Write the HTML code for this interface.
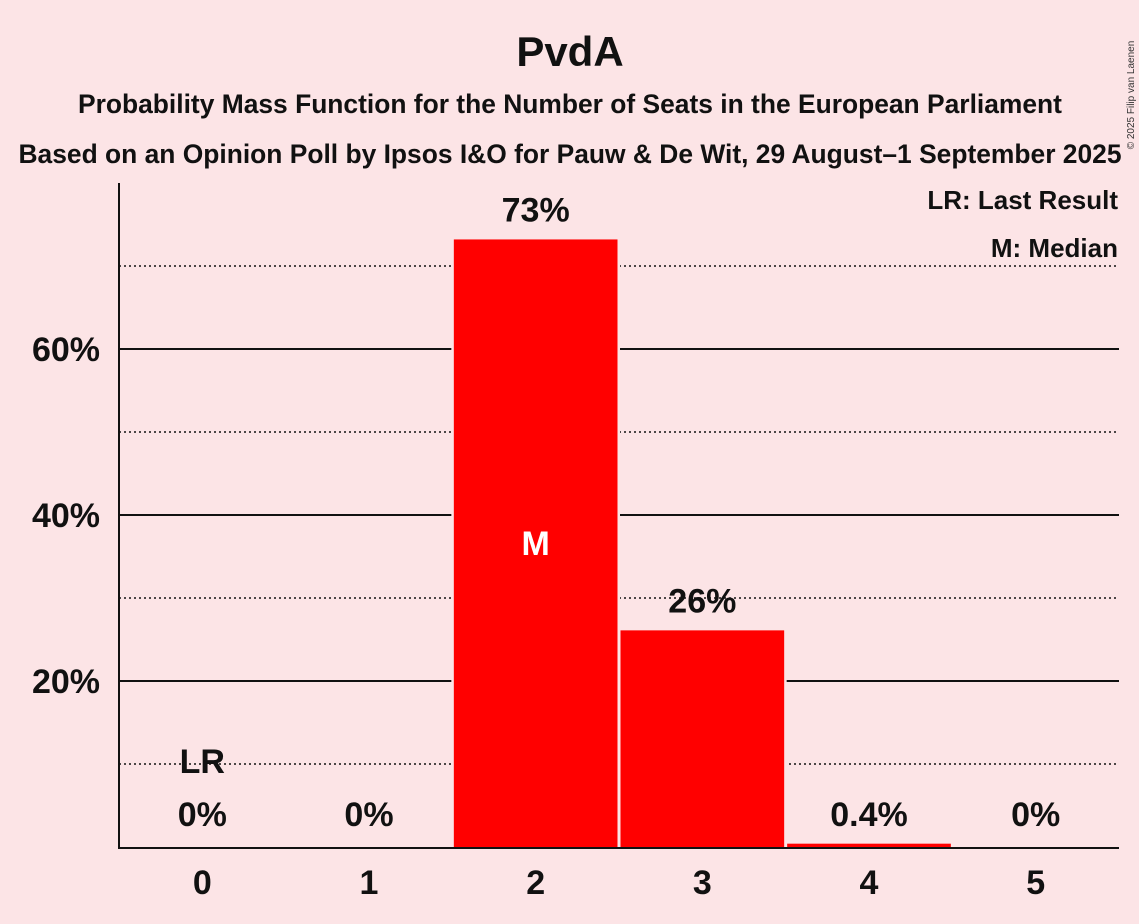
<!DOCTYPE html>
<html><head><meta charset="utf-8"><style>
html,body{margin:0;padding:0;background:#fce4e6;}
svg{display:block;font-family:"Liberation Sans",sans-serif;}
</style></head><body>
<svg id="chart" width="1139" height="924" viewBox="0 0 1139 924">
<rect width="1139" height="924" fill="#fce4e6"/>
<text x="570" y="66" text-anchor="middle" font-size="42" font-weight="bold" fill="#111">PvdA</text>
<text x="570" y="113" text-anchor="middle" font-size="26.4" font-weight="bold" fill="#111">Probability Mass Function for the Number of Seats in the European Parliament</text>
<text x="570" y="163" text-anchor="middle" font-size="26.4" font-weight="bold" fill="#111">Based on an Opinion Poll by Ipsos I&amp;O for Pauw &amp; De Wit, 29 August–1 September 2025</text>
<text transform="translate(1134,95) rotate(-90)" text-anchor="middle" font-size="10" fill="#333">© 2025 Filip van Laenen</text>
<g id="grid"></g>
<g id="bars"></g>
<g id="labels"></g>
<line x1="119" y1="183" x2="119" y2="848" stroke="#111" stroke-width="2"/>
<line x1="118" y1="848" x2="1119" y2="848" stroke="#111" stroke-width="2"/>
<text x="1118" y="209" text-anchor="end" font-size="26" font-weight="bold" fill="#111">LR: Last Result</text>
<text x="1118" y="257" text-anchor="end" font-size="26" font-weight="bold" fill="#111">M: Median</text>
</svg>
<script>
const categories=[0,1,2,3,4,5];
const values=[0,0,73.2,26.1,0.4,0];
const valueLabels=["0%","0%","73%","26%","0.4%","0%"];
const yTicks=[20,40,60];
const yTickLabels=["20%","40%","60%"];
const dottedTicks=[10,30,50,70];
const lastResult=0;
const median=2;
const NS="http://www.w3.org/2000/svg";
const x0=119,x1=1119,yBase=847,pxPer=8.3;
const step=(x1-x0)/categories.length;
function xC(i){return x0+step*(i+0.5);}
function y(v){return yBase-v*pxPer;}
function mk(tag,attrs,parent){const e=document.createElementNS(NS,tag);for(const k in attrs)e.setAttribute(k,attrs[k]);parent.appendChild(e);return e;}
const grid=document.getElementById('grid'),bars=document.getElementById('bars'),labels=document.getElementById('labels');
dottedTicks.forEach(t=>{const l=mk('line',{x1:x0,x2:x1,y1:y(t),y2:y(t),stroke:'#111','stroke-width':1.5,'stroke-dasharray':'2,3'},grid);

});
yTicks.forEach((t,i)=>{const l=mk('line',{x1:x0,x2:x1,y1:y(t),y2:y(t),stroke:'#111','stroke-width':2},grid);


const tx=mk('text',{x:100,y:y(t)+12,'text-anchor':'end','font-size':34,'font-weight':'bold',fill:'#111'},labels);tx.textContent=yTickLabels[i];

});
categories.forEach((c,i)=>{
const cx=xC(i);
if(values[i]>0){
const top=y(values[i]);
const bg=mk('rect',{x:cx-step/2-1,y:top-2,width:step+2,height:yBase-top+2,fill:'#fce4e6'},bars);


const r=mk('rect',{x:cx-step/2+1.5,y:top,width:step-3,height:yBase-top,fill:'#ff0000'},bars);

}
const vl=mk('text',{x:cx,y:values[i]>5?y(values[i])-18:826,'text-anchor':'middle','font-size':34,'font-weight':'bold',fill:'#111'},labels);vl.textContent=valueLabels[i];


const xl=mk('text',{x:cx,y:894,'text-anchor':'middle','font-size':34,'font-weight':'bold',fill:'#111'},labels);xl.textContent=c;


if(c===lastResult){const t=mk('text',{x:cx,y:773,'text-anchor':'middle','font-size':34,'font-weight':'bold',fill:'#111'},labels);t.textContent='LR';

}
if(c===median){const t=mk('text',{x:cx,y:(y(values[i])+yBase)/2+12,'text-anchor':'middle','font-size':34,'font-weight':'bold',fill:'#fff'},labels);t.textContent='M';

}
});
</script>
</body></html>
